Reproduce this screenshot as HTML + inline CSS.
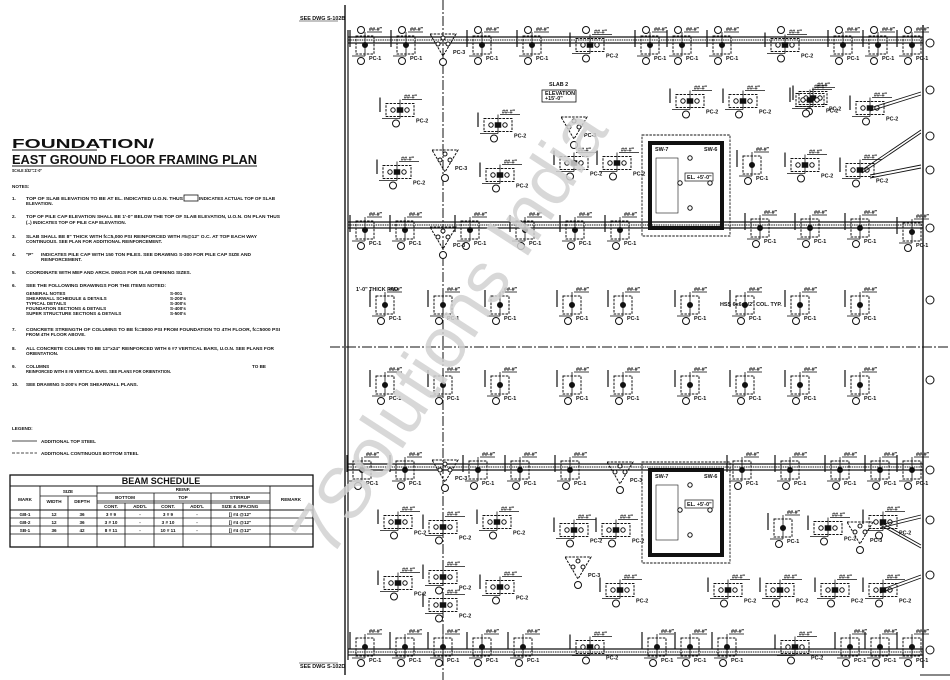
<!DOCTYPE html>
<html><head><meta charset="utf-8"><style>
html,body{margin:0;padding:0;background:#fff;width:950px;height:680px;overflow:hidden}
svg{display:block}
text{font-family:"Liberation Sans",sans-serif;fill:#111}
.n{font-size:4.6px;font-weight:bold}
.t{font-size:5.4px;font-weight:bold}
</style></head><body>
<svg id="s" width="950" height="680" viewBox="0 0 950 680" xmlns="http://www.w3.org/2000/svg">
<g id="left">
<text x="12" y="148" font-size="12.5" font-weight="bold" textLength="142" lengthAdjust="spacingAndGlyphs">FOUNDATION/</text>
<line x1="12" y1="150" x2="97" y2="150" stroke="#111" stroke-width="1"/>
<text x="12" y="164" font-size="12.5" font-weight="bold" textLength="245" lengthAdjust="spacingAndGlyphs">EAST GROUND FLOOR FRAMING PLAN</text>
<line x1="12" y1="166" x2="257" y2="166" stroke="#111" stroke-width="1"/>
<text x="12" y="172" class="n" textLength="30" lengthAdjust="spacingAndGlyphs">SCALE 3/32"=1'-0"</text>
<text x="12" y="188" class="n">NOTES:</text>
<text x="12" y="200" class="n">1.</text><text x="26" y="200" class="n" textLength="157" lengthAdjust="spacingAndGlyphs">TOP OF SLAB ELEVATION TO BE AT EL. INDICATED U.O.N. THUS</text>
<rect x="184" y="195" width="14" height="6" fill="none" stroke="#111" stroke-width="0.8"/>
<text x="199" y="200" class="n" textLength="76" lengthAdjust="spacingAndGlyphs">INDICATES ACTUAL TOP OF SLAB</text>
<text x="26" y="205" class="n">ELEVATION.</text>
<text x="12" y="218" class="n">2.</text><text x="26" y="218" class="n" textLength="254" lengthAdjust="spacingAndGlyphs">TOP OF PILE CAP ELEVATION SHALL BE 1'-0" BELOW THE TOP OF SLAB ELEVATION, U.O.N. ON PLAN THUS</text>
<text x="26" y="224" class="n" textLength="100" lengthAdjust="spacingAndGlyphs">(..) INDICATES TOP OF PILE CAP ELEVATION.</text>
<text x="12" y="238" class="n">3.</text><text x="26" y="238" class="n" textLength="231" lengthAdjust="spacingAndGlyphs">SLAB SHALL BE 8" THICK WITH fc=5,000 PSI REINFORCED WITH #5@12" O.C. AT TOP EACH WAY</text>
<text x="26" y="243" class="n" textLength="136" lengthAdjust="spacingAndGlyphs">CONTINUOUS. SEE PLAN FOR ADDITIONAL REINFORCEMENT.</text>
<text x="12" y="256" class="n">4.</text><text x="26" y="256" class="n">"P"</text><text x="41" y="256" class="n" textLength="210" lengthAdjust="spacingAndGlyphs">INDICATES PILE CAP WITH 150 TON PILES. SEE DRAWING S-300 FOR PILE CAP SIZE AND</text>
<text x="41" y="261" class="n">REINFORCEMENT.</text>
<text x="12" y="274" class="n">5.</text><text x="26" y="274" class="n" textLength="165" lengthAdjust="spacingAndGlyphs">COORDINATE WITH MEP AND ARCH. DWGS FOR SLAB OPENING SIZES.</text>
<text x="12" y="287" class="n">6.</text><text x="26" y="287" class="n" textLength="140" lengthAdjust="spacingAndGlyphs">SEE THE FOLLOWING DRAWINGS FOR THE ITEMS NOTED:</text>
<text x="26" y="295" class="n">GENERAL NOTES</text><text x="170" y="295" class="n">S-001</text>
<text x="26" y="300" class="n">SHEARWALL SCHEDULE &amp; DETAILS</text><text x="170" y="300" class="n">S-200's</text>
<text x="26" y="305" class="n">TYPICAL DETAILS</text><text x="170" y="305" class="n">S-300's</text>
<text x="26" y="310" class="n">FOUNDATION SECTIONS &amp; DETAILS</text><text x="170" y="310" class="n">S-400's</text>
<text x="26" y="315" class="n">SUPER STRUCTURE SECTIONS &amp; DETAILS</text><text x="170" y="315" class="n">S-500's</text>
<text x="12" y="331" class="n">7.</text><text x="26" y="331" class="n" textLength="254" lengthAdjust="spacingAndGlyphs">CONCRETE STRENGTH OF COLUMNS TO BE fc=8000 PSI FROM FOUNDATION TO 4TH FLOOR, fc=5000 PSI</text>
<text x="26" y="336" class="n">FROM 4TH FLOOR ABOVE.</text>
<text x="12" y="350" class="n">8.</text><text x="26" y="350" class="n" textLength="248" lengthAdjust="spacingAndGlyphs">ALL CONCRETE COLUMN TO BE 12"x24" REINFORCED WITH 6 #7 VERTICAL BARS, U.O.N. SEE PLANS FOR</text>
<text x="26" y="355" class="n">ORIENTATION.</text>
<text x="12" y="368" class="n">9.</text><text x="26" y="368" class="n">COLUMNS</text><text x="252" y="368" class="n">TO BE</text>
<text x="26" y="373" class="n" textLength="145" lengthAdjust="spacingAndGlyphs">REINFORCED WITH 8 #8 VERTICAL BARS. SEE PLANS FOR ORIENTATION.</text>
<text x="12" y="386" class="n">10.</text><text x="26" y="386" class="n" textLength="112" lengthAdjust="spacingAndGlyphs">SEE DRAWING S-200's FOR SHEARWALL PLANS.</text>
<text x="12" y="430" class="n">LEGEND:</text>
<line x1="12" y1="441" x2="37" y2="441" stroke="#111" stroke-width="0.8"/><text x="41" y="443" class="n">ADDITIONAL TOP STEEL</text>
<line x1="12" y1="453" x2="37" y2="453" stroke="#111" stroke-width="0.8" stroke-dasharray="3,1.5"/><text x="41" y="455" class="n">ADDITIONAL CONTINUOUS BOTTOM STEEL</text>
<g stroke="#111" fill="none">
<rect x="10" y="475" width="303" height="72" stroke-width="1.3"/>
<line x1="10" y1="486" x2="313" y2="486" stroke-width="1"/>
<line x1="40" y1="496" x2="97" y2="496" stroke-width="0.7"/>
<line x1="97" y1="493" x2="270" y2="493" stroke-width="0.7"/>
<line x1="97" y1="501" x2="270" y2="501" stroke-width="0.7"/>
<line x1="10" y1="510" x2="313" y2="510" stroke-width="1"/>
<line x1="10" y1="518" x2="313" y2="518" stroke-width="0.8"/>
<line x1="10" y1="526" x2="313" y2="526" stroke-width="0.8"/>
<line x1="10" y1="534" x2="313" y2="534" stroke-width="0.8"/>
<line x1="40" y1="486" x2="40" y2="547" stroke-width="0.8"/>
<line x1="68" y1="496" x2="68" y2="547" stroke-width="0.8"/>
<line x1="97" y1="486" x2="97" y2="547" stroke-width="0.8"/>
<line x1="125" y1="503" x2="125" y2="547" stroke-width="0.8"/>
<line x1="154" y1="493" x2="154" y2="547" stroke-width="0.8"/>
<line x1="183" y1="503" x2="183" y2="547" stroke-width="0.8"/>
<line x1="211" y1="493" x2="211" y2="547" stroke-width="0.8"/>
<line x1="270" y1="486" x2="270" y2="547" stroke-width="0.8"/>
<line x1="97" y1="503" x2="270" y2="503" stroke-width="0.7"/>
</g>
<text x="161" y="484" font-size="9" font-weight="bold" text-anchor="middle">BEAM SCHEDULE</text>
<g text-anchor="middle" style="font-size:5px">
<text x="68" y="493" class="n">SIZE</text><text x="183" y="491" class="n">REINF.</text>
<text x="125" y="499" class="n">BOTTOM</text><text x="183" y="499" class="n">TOP</text><text x="240" y="499" class="n">STIRRUP</text>
<text x="111" y="508" class="n">CONT.</text><text x="140" y="508" class="n">ADD'L</text><text x="168" y="508" class="n">CONT.</text><text x="197" y="508" class="n">ADD'L</text><text x="240" y="508" class="n">SIZE &amp; SPACING</text>
<text x="25" y="501" class="n">MARK</text><text x="54" y="503" class="n">WIDTH</text><text x="82" y="503" class="n">DEPTH</text><text x="291" y="501" class="n">REMARK</text>
<text x="25" y="516" class="n">GB-1</text><text x="54" y="516" class="n">12</text><text x="82" y="516" class="n">36</text><text x="111" y="516" class="n">3 # 9</text><text x="140" y="516" class="n">-</text><text x="168" y="516" class="n">3 # 9</text><text x="197" y="516" class="n">-</text><text x="240" y="516" class="n">[] #4 @12"</text>
<text x="25" y="524" class="n">GB-2</text><text x="54" y="524" class="n">12</text><text x="82" y="524" class="n">36</text><text x="111" y="524" class="n">3 # 10</text><text x="140" y="524" class="n">-</text><text x="168" y="524" class="n">3 # 10</text><text x="197" y="524" class="n">-</text><text x="240" y="524" class="n">[] #4 @12"</text>
<text x="25" y="532" class="n">SB-1</text><text x="54" y="532" class="n">36</text><text x="82" y="532" class="n">42</text><text x="111" y="532" class="n">8 # 11</text><text x="140" y="532" class="n">-</text><text x="168" y="532" class="n">10 # 11</text><text x="197" y="532" class="n">-</text><text x="240" y="532" class="n">[] #4 @12"</text>
</g>
</g>
<g id="plan" stroke="#111" fill="none">
<line x1="299" y1="21" x2="338" y2="21" stroke-width="0.6"/>
<line x1="299" y1="663" x2="338" y2="663" stroke-width="0.6"/>
<line x1="345" y1="5" x2="345" y2="675" stroke-width="1.4"/>
<line x1="348" y1="30" x2="348" y2="660" stroke-width="1.2"/>
<line x1="923" y1="25" x2="923" y2="668" stroke-width="1.4"/>
<line x1="443" y1="0" x2="443" y2="680" stroke-width="1" stroke-dasharray="10,2,2,2"/>
<line x1="330" y1="347" x2="950" y2="347" stroke-width="1" stroke-dasharray="10,2,2,2"/>
<line x1="920" y1="675" x2="950" y2="675" stroke-width="1"/>
</g>
<g id="gen"></g>
<text x="300" y="20" class="t">SEE DWG S-102B</text>
<text x="300" y="668" class="t">SEE DWG S-102D</text>
<text x="356" y="291" class="t">1'-0" THICK PAD</text>
<text x="720" y="306" class="t">HSS 6x6x1/2" COL. TYP.</text>
<text x="549" y="86" class="t">SLAB 2</text>
<rect x="542" y="90" width="34" height="12" fill="none" stroke="#111" stroke-width="0.8"/>
<text x="545" y="95" class="t">ELEVATION</text><text x="545" y="100" class="t">+15'-0"</text>
<text transform="translate(470,345) rotate(-57)" x="0" y="0" font-size="72" style="fill:#d2d2d2;font-family:'Liberation Sans',sans-serif" text-anchor="middle" opacity="0.85">7Solutions India</text>
</svg>
<script>
var g=document.getElementById('gen'),h='';
function L(a,b,c,d,w,da){h+='<line x1="'+a+'" y1="'+b+'" x2="'+c+'" y2="'+d+'" stroke="#111" stroke-width="'+w+'"'+(da?' stroke-dasharray="'+da+'"':'')+'/>';}
function R(x,y,w,hh,sw,da,f){h+='<rect x="'+x+'" y="'+y+'" width="'+w+'" height="'+hh+'" stroke="#111" stroke-width="'+sw+'" fill="'+(f||'none')+'"'+(da?' stroke-dasharray="'+da+'"':'')+'/>';}
function C(x,y,r,f){h+='<circle cx="'+x+'" cy="'+y+'" r="'+r+'" stroke="#111" stroke-width="1" fill="'+(f||'#fff')+'"/>';}
function T(x,y,s){h+='<text x="'+x+'" y="'+y+'" class="t">'+s+'</text>';}
function beam(y){L(348,y-3,923,y-3,1.2);L(348,y,923,y,0.9,'1.5,0.8');L(348,y+3,923,y+3,1.2);}
beam(40);beam(225);beam(467);beam(652);
function pc(x,y,t,lab){var w=t==2?28:18,hh=t==2?13:18;
 R(x-w/2,y-hh/2,w,hh,1,'2.5,1.2');
 if(t==2){C(x-7,y,2.2);C(x+7,y,2.2);R(x-3,y-2.5,6,5,0.5,null,'#111');}
 else {C(x,y,2.5,'#111');}
 L(x-w/2-4,y+hh/2+2,x,y+hh/2+2,0.8);L(x,y-hh/2-4,x,y+hh/2+2,0.8);
 L(x+2,y-hh/2-4,x+w/2+8,y-hh/2-4,0.8);T(x+4,y-hh/2-5,'##-#"');
 L(x-w/2-6,y-hh/2-6,x-w/2-6,y+2,1.2);
 T(x+(t==2?w/2+2:4),y+hh/2+6,lab||('PC-'+t));
 C(x-4,y+hh/2+7,3.5,'#fff');}
function pc3(x,y){h+='<polygon points="'+(x-13)+','+(y-8)+' '+(x+13)+','+(y-8)+' '+x+','+(y+14)+'" fill="none" stroke="#111" stroke-width="1" stroke-dasharray="2.5,1.2"/>';C(x,y-4,2);C(x-5,y+2,2);C(x+5,y+2,2);T(x+10,y+12,'PC-3');C(x,y+20,3.5);}
[[365,1],[406,1],[482,1],[532,1],[590,2],[650,1],[682,1],[722,1],[785,2],[843,1],[878,1],[912,1]].forEach(function(p){pc(p[0],45,p[1],null);C(p[0]-4,30,3.5);});
pc3(443,42);
[[400,110,2],[498,125,2],[397,172,2],[500,175,2],[813,98,2],[574,163,2],[617,163,2],[690,101,2],[743,101,2],[810,100,2],[870,108,2],[752,165,1],[805,165,2],[860,170,2]].forEach(function(p){pc(p[0],p[1],p[2]);});
pc3(445,158);pc3(574,125);
[[365,230],[405,230],[470,230],[525,230],[575,230],[620,230],[760,228],[810,228],[860,228],[912,232]].forEach(function(p){pc(p[0],p[1],1);});
pc3(443,235);
[385,443,500,572,623,690,745,800,860].forEach(function(x){pc(x,305,1);pc(x,385,1);});
[[362,470],[405,470],[478,470],[520,470],[570,470],[742,470],[790,470],[840,470],[880,470],[912,470]].forEach(function(p){pc(p[0],p[1],1);});
pc3(445,468);pc3(620,470);
[[398,522,2],[443,527,2],[497,522,2],[574,530,2],[616,530,2],[398,583,2],[443,577,2],[443,605,2],[500,587,2],[620,590,2],[783,528,1],[828,528,2],[883,522,2],[883,590,2],[728,590,2],[780,590,2],[835,590,2]].forEach(function(p){pc(p[0],p[1],p[2]);});
pc3(578,565);pc3(860,530);
[[365,647,1],[405,647,1],[443,647,1],[482,647,1],[523,647,1],[590,647,2],[657,647,1],[690,647,1],[727,647,1],[795,647,2],[850,647,1],[880,647,1],[912,647,1]].forEach(function(p){pc(p[0],p[1],p[2]);});
function core(x,y,w,hh){R(x-8,y-8,w+16,hh+16,0.9,'2.5,1.2');R(x,y,w,hh,4);R(x+6,y+15,22,hh-30,0.6);C(x+40,y+15,2.2);C(x+30,y+40,2.2);C(x+60,y+40,2.2);C(x+40,y+65,2.2);R(x+35,y+30,28,8,0.7);T(x+37,y+36,'EL. +5\'-0"');T(x+5,y+8,'SW-7');T(x+w-18,y+8,'SW-6');}
core(650,143,72,85);core(650,470,72,85);
function br(a,b,c,d){L(a,b,c,d,0.9);L(a,b+3,c,d+3,0.9);}
br(870,108,921,92);br(862,170,921,130);br(870,175,921,165);br(880,522,921,545);br(880,525,921,515);br(880,590,921,575);
[43,90,136,170,228,300,380,470,520,575,650].forEach(function(y){C(930,y,4);});
g.innerHTML=h;
</script>
</body></html>
